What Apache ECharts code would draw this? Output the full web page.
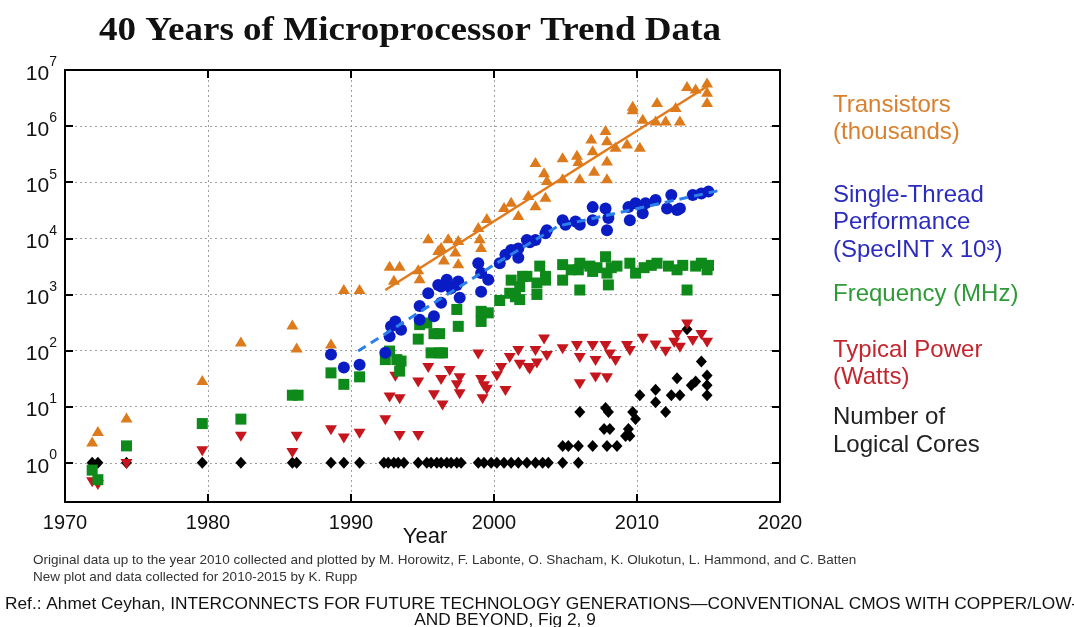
<!DOCTYPE html>
<html><head><meta charset="utf-8">
<script src="https://cdn.jsdelivr.net/npm/echarts@6.0.0/dist/echarts.min.js"></script>
<style>html,body{margin:0;padding:0;background:#fff}#c{width:1074px;height:627px}</style>
</head><body><div id="c"></div>
<script>
// ---- data (year, value) ----
const transistors = [
 [1971.9,2.4],[1972.3,3.7],[1974.3,6.4],[1979.6,30],[1982.3,145],[1985.9,290],[1986.2,113],[1988.6,133],
 [1989.5,1250],[1990.6,1250],[1992.7,3240],[1993.4,3240],[1993.0,1820],[1994.7,2800],[1994.8,1950],
 [1995.4,10000],[1996.1,6200],[1996.3,7000],[1996.5,4200],[1996.8,10000],[1997.3,5800],[1997.5,9300],[1997.5,3600],
 [1998.9,16000],[1999.0,10000],[1999.1,7000],[1999.5,23000],[2000.7,36000],[2001.2,45000],[2001.7,26000],
 [2002.4,59000],[2002.9,39000],[2003.6,55000],[2002.9,230000],[2003.5,150000],[2003.7,110000],
 [2004.8,280000],[2004.8,118000],[2005.8,310000],[2005.9,240000],[2006.0,118000],[2006.8,600000],
 [2006.9,370000],[2007.0,160000],[2007.8,850000],[2007.9,560000],[2007.9,245000],[2007.9,118000],
 [2008.5,430000],[2009.3,490000],[2009.7,2300000],[2009.7,2000000],[2010.2,430000],[2010.4,1350000],
 [2011.4,2700000],[2011.3,1260000],[2012.0,1260000],[2012.7,2200000],[2013.0,1260000],[2013.5,5200000],
 [2014.1,4700000],[2014.9,6000000],[2014.9,4100000],[2014.9,2700000]
];
const performance = [
 [1988.6,85],[1989.5,50],[1990.6,56],[1992.4,91],[1992.7,180],[1992.8,270],[1993.1,330],[1993.5,235],
 [1994.8,620],[1994.8,355],[1995.4,1050],[1995.8,410],[1996.3,1380],[1996.3,710],[1997.6,870],[1997.4,1480],
 [1999.1,1120],[1996.1,1480],[1996.7,1820],[1997.0,1290],[1997.5,1700],[1998.9,3600],[1999.1,2400],
 [1999.6,1820],[2000.4,3600],[2000.8,5100],[2001.2,6200],[2001.7,6600],[2001.7,4500],[2002.3,9300],
 [2002.9,9300],[2002.5,8500],[2003.6,12300],[2003.7,14000],[2004.8,21000],[2005.0,17400],[2005.7,20000],
 [2006.0,17400],[2006.9,36000],[2006.9,21000],[2007.8,34000],[2008.0,23000],[2007.9,14000],[2009.4,36000],
 [2009.5,21000],[2009.9,42000],[2010.4,28000],[2010.6,42000],[2011.3,48000],[2012.1,34000],[2012.4,59000],
 [2012.8,32000],[2013.0,34000],[2013.9,59000],[2014.5,63000],[2015.0,68000]
];
const frequency = [
 [1971.9,0.74],[1972.3,0.5],[1974.3,2],[1979.6,5],[1982.3,6],[1985.9,16],[1986.3,16],[1988.6,40],
 [1989.5,25],[1990.6,34],[1992.4,69],[1992.7,98],[1993.2,69],[1993.4,43],[1993.5,65],[1994.7,160],
 [1994.8,290],[1995.3,310],[1995.8,200],[1996.2,200],[1995.6,91],[1996.2,91],[1996.4,91],[1997.4,540],
 [1997.5,270],[1999.1,500],[1999.1,330],[1999.6,470],[2000.4,780],[2001.1,1050],[2001.2,1800],[2001.5,910],
 [2001.8,810],[2001.8,1380],[2002.0,2100],[2002.3,2100],[2003.0,1600],[2003.0,1000],[2003.2,3200],
 [2003.6,2100],[2003.6,1800],[2004.8,3400],[2004.8,1800],[2005.4,2750],[2005.9,2750],[2006.0,1200],
 [2006.0,3600],[2006.7,3200],[2006.9,2570],[2007.2,3000],[2007.8,4700],[2007.9,2400],[2008.0,1480],
 [2008.2,3000],[2008.6,3200],[2009.5,3600],[2009.9,2400],[2010.5,3000],[2011.0,3300],[2011.4,3600],
 [2012.2,3200],[2012.8,2750],[2013.2,3300],[2013.5,1200],[2014.1,3200],[2014.5,3600],[2014.9,2750],[2015.0,3300]
];
const power = [
 [1971.9,0.45],[1972.3,0.4],[1974.3,0.95],[1979.6,1.6],[1982.3,2.9],[1985.9,1.5],[1986.2,2.9],[1988.6,3.8],
 [1989.5,2.7],[1990.6,3.3],[1992.4,5.7],[1992.7,14.5],[1993.1,34],[1993.4,13.5],[1993.4,3.0],[1994.7,3.0],
 [1994.7,27],[1995.4,49],[1995.8,16],[1996.3,30],[1996.4,10.5],[1996.9,43],[1997.4,24],[1997.6,32],
 [1997.6,16.6],[1998.9,85],[1999.1,30],[1999.3,23],[1999.2,13.5],[1999.5,20],[2000.2,35],[2000.5,49],
 [2000.8,19],[2001.1,74],[2001.7,98],[2001.8,56],[2002.4,49],[2002.5,46],[2002.9,98],[2003.0,59],
 [2003.5,158],[2003.7,80],[2004.8,105],[2005.8,120],[2006.0,74],[2006.0,25],[2006.9,120],[2007.1,33],
 [2007.1,65],[2007.9,32],[2007.8,120],[2008.1,85],[2008.5,65],[2009.3,120],[2009.5,98],[2010.4,162],
 [2011.3,123],[2012.0,95],[2012.6,138],[2012.8,190],[2013.0,112],[2013.5,290],[2013.9,148],[2014.5,190],[2014.9,138]
];
const cores = [
 [1971.9,1],[1972.3,1],[1974.3,1],[1979.6,1],[1982.3,1],[1985.9,1],[1986.2,1],[1988.6,1],[1989.5,1],
 [1990.6,1],[1992.3,1],[1992.6,1],[1993.0,1],[1993.3,1],[1993.7,1],[1994.7,1],[1995.3,1],[1995.6,1],
 [1996.0,1],[1996.3,1],[1996.7,1],[1997.0,1],[1997.4,1],[1997.7,1],[1998.9,1],[1999.3,1],[1999.8,1],
 [2000.2,1],[2000.7,1],[2001.2,1],[2001.7,1],[2002.3,1],[2002.9,1],[2003.4,1],[2003.8,1],[2004.8,1],[2005.9,1],
 [2004.8,2],[2005.2,2],[2005.9,2],[2006.9,2],[2007.9,2],[2008.6,2],[2007.7,4],[2008.1,4],[2009.4,4],
 [2009.2,3],[2009.5,3],[2006.0,8],[2008.0,8],[2009.7,8],[2007.8,9.5],[2009.9,6],[2010.2,16],[2012.4,16],
 [2013.0,16],[2014.9,16],[2011.3,20],[2011.3,12],[2012.0,8],[2012.8,32],[2013.5,240],[2013.8,24],
 [2014.9,24],[2014.1,28],[2014.5,64],[2014.9,36]
];
const transistorTrend = [[1992.4,1200],[2015.0,5300000]];
const performanceTrend = [[1990.5,98],[2000.2,3630],[2004.5,16600],[2015.7,70800]];
const yearTicks = [1970,1980,1990,2000,2010,2020];
const legendLines = [
 ['Transistors',105,'#d9802e'],['(thousands)',132,'#d9802e'],
 ['Single-Thread',195,'#2b2cbd'],['Performance',222,'#2b2cbd'],['(SpecINT x 10\u00b3)',250,'#2b2cbd'],
 ['Frequency (MHz)',294,'#2f9a38'],
 ['Typical Power',350,'#c3262e'],['(Watts)',377,'#c3262e'],
 ['Number of',417,'#222'],['Logical Cores',445,'#222']
];

const NARROW = "'Liberation Sans Narrow','Liberation Sans',Arial,sans-serif";
const SANS = "'Liberation Sans',Arial,sans-serif";
const chart = echarts.init(document.getElementById('c'), null, {renderer:'canvas'});
const axisLineStyle = {color:'#000', width:2};
const tickStyle = {show:true, inside:true, length:8, lineStyle:{color:'#000', width:2}};
const gridLine = {show:true, lineStyle:{color:'#a0a0a0', width:1, type:[2,3]}};

function expLabel(v){
  const l = Math.log10(v), e = Math.round(l);
  if (Math.abs(l-e) > 1e-6) return '';
  return '{b|10}{s|' + e + '}';
}

const graphics = [
  {type:'text', x:410, y:31, scaleX:1.09, style:{text:'40 Years of Microprocessor Trend Data', font:"bold 34px 'Liberation Serif','Times New Roman',serif", fill:'#111', align:'center', verticalAlign:'middle'}},
  {type:'text', x:425, y:537, style:{text:'Year', font:"22px "+NARROW, fill:'#111', align:'center', verticalAlign:'middle'}},
  {type:'text', x:33, y:560, scaleX:1.0, style:{text:'Original data up to the year 2010 collected and plotted by M. Horowitz, F. Labonte, O. Shacham, K. Olukotun, L. Hammond, and C. Batten', font:"13.5px "+NARROW, fill:'#333', verticalAlign:'middle'}},
  {type:'text', x:33, y:577, style:{text:'New plot and data collected for 2010-2015 by K. Rupp', font:"13.5px "+NARROW, fill:'#333', verticalAlign:'middle'}},
  {type:'text', x:5, y:604, style:{text:'Ref.: Ahmet Ceyhan, INTERCONNECTS FOR FUTURE TECHNOLOGY GENERATIONS\u2014CONVENTIONAL CMOS WITH COPPER/LOW-', font:"17.3px "+NARROW, fill:'#111', verticalAlign:'middle'}},
  {type:'text', x:505, y:620, style:{text:'AND BEYOND, Fig 2, 9', font:"17.3px "+NARROW, fill:'#111', align:'center', verticalAlign:'middle'}}
];
legendLines.forEach(([t,y,c]) => {
  graphics.push({type:'text', x:833, y:y, style:{text:t, font:'24px '+SANS, fill:c, verticalAlign:'middle'}});
});

const option = {
  animation:false,
  backgroundColor:'#fff',
  grid:{left:65, right:294, top:70, bottom:125, containLabel:false},
  xAxis:[
    {type:'value', min:yearTicks[0], max:yearTicks[yearTicks.length-1], interval:10, position:'bottom',
     axisLine:{show:true, lineStyle:axisLineStyle}, axisTick:tickStyle,
     axisLabel:{fontSize:20, fontFamily:NARROW, color:'#111', margin:11, formatter:v => String(v)}, splitLine:gridLine},
    {type:'value', min:yearTicks[0], max:yearTicks[yearTicks.length-1], interval:10, position:'top',
     axisLine:{show:true, lineStyle:axisLineStyle}, axisTick:tickStyle, axisLabel:{show:false}, splitLine:{show:false}}
  ],
  yAxis:[
    {type:'log', logBase:10, min:0.2, max:1e7, position:'left',
     axisLine:{show:true, lineStyle:axisLineStyle}, axisTick:tickStyle, splitLine:gridLine,
     axisLabel:{formatter:expLabel, margin:8, color:'#111',
       rich:{b:{fontSize:21, fontFamily:NARROW, color:'#111', padding:[8,0,0,0]}, s:{fontSize:14, fontFamily:NARROW, color:'#111', verticalAlign:'top'}}}},
    {type:'log', logBase:10, min:0.2, max:1e7, position:'right',
     axisLine:{show:true, lineStyle:axisLineStyle}, axisTick:tickStyle, axisLabel:{show:false}, splitLine:{show:false}}
  ],
  series:[
    {type:'scatter', data:cores, symbol:'diamond', symbolSize:[11,12], itemStyle:{color:'#000', opacity:1}},
    {type:'scatter', data:power, symbol:'triangle', symbolRotate:180, symbolSize:[12,10], itemStyle:{color:'#c4161c', opacity:1}},
    {type:'scatter', data:frequency, symbol:'rect', symbolSize:11, itemStyle:{color:'#0e8a1b', opacity:1}},
    {type:'scatter', data:performance, symbol:'circle', symbolSize:12, itemStyle:{color:'#0a1cc4', opacity:1}},
    {type:'scatter', data:transistors, symbol:'triangle', symbolSize:[12,10], itemStyle:{color:'#dd7b1c', opacity:1}},
    {type:'line', data:transistorTrend, symbol:'none', lineStyle:{color:'#e07a1c', width:2.5}, z:5},
    {type:'line', data:performanceTrend, symbol:'none', lineStyle:{color:'#2d80ea', width:3, type:[9,6]}, z:5}
  ],
  graphic:graphics
};
chart.setOption(option);
</script></body></html>
